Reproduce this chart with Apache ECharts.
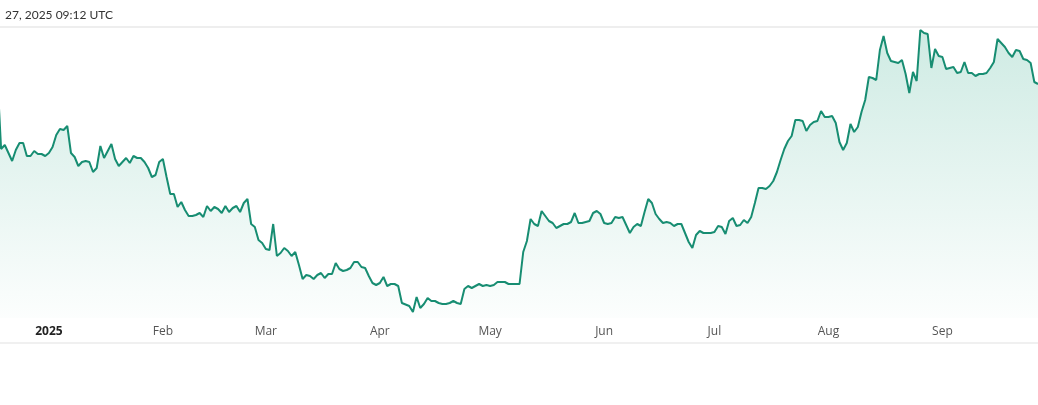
<!DOCTYPE html>
<html>
<head>
<meta charset="utf-8">
<script src="https://cdn.jsdelivr.net/npm/echarts@6/dist/echarts.min.js"></script>
<style>
  html, body { margin: 0; padding: 0; background: #ffffff; }
  #chart { width: 1038px; height: 405px; }
</style>
</head>
<body>
<div id="chart"></div>
<script>
// ---- data ----
const updatedText = '27, 2025 09:12 UTC';
const startDate = [2024, 11, 18];           // first daily point: 18 Dec 2024
const monthLabels = ['2025', 'Feb', 'Mar', 'Apr', 'May', 'Jun', 'Jul', 'Aug', 'Sep', 'Oct', 'Nov', 'Dec'];
const viewStartOffsetDays = 13.3;           // visible window starts 13.3 days before 1 Jan 2025
const values = [
  240,169,173,165,157,168,175,175,162,162,
  167,164,164,162,165,171,183,189,188,192,
  165,161,152,156,157,156,146,150,172,160,
  null,174,159,152,156,160,155,162,160,160,
  156,150,141,143,156,159,141,124,124,111,
  116,108,102,102,103,105,101,112,107,111,
  109,105,112,106,110,112,106,115,119,94,
  91,78,75,69,68,94,62,65,70,67,
  62,66,53,39,43,42,39,43,45,40,
  44,44,55,49,47,48,50,56,56,51,
  50,42,35,33,35,41,32,34,34,32,
  15,null,12,6,21,10,14,20,17,17,
  15,14,14,15,17,15,14,29,32,30,
  32,34,32,33,32,33,36,36,36,34,
  34,34,34,66,77,99,94,92,107,102,
  97,95,90,92,94,94,96,105,95,95,
  96,97,105,107,104,95,94,95,101,100,
  101,null,85,91,94,92,106,119,115,104,
  99,95,96,95,92,94,94,85,76,70,
  83,87,85,85,85,86,92,91,84,97,
  100,92,93,98,95,101,115,130,130,129,
  132,137,146,158,169,177,182,198,198,197,
  187,193,196,197,207,201,201,202,195,176,
  168,175,194,186,191,206,218,241,240,238,
  268,282,265,257,null,255,258,244,225,246,
  237,288,285,284,250,269,262,261,249,250,
  251,245,246,256,245,245,242,244,244,245,
  250,256,279,275,271,265,261,268,267,259,
  258,255,236,234
];
const yMin = 0;
const yMax = 290;

// ---- build series ----
const DAY = 86400000;
const seriesData = values.map((v, i) => {
  const d = new Date(startDate[0], startDate[1], startDate[2] + i);
  return [d.getTime(), v];
});
const jan1 = new Date(2025, 0, 1).getTime();
const xMin = jan1 - viewStartOffsetDays * DAY;
const xMax = seriesData[seriesData.length - 1][0];

const chart = echarts.init(document.getElementById('chart'), null, { renderer: 'canvas' });
chart.setOption({
  animation: false,
  backgroundColor: '#ffffff',
  title: {
    text: updatedText,
    left: 0,
    top: 4,
    textStyle: { fontFamily: 'Lato, Open Sans, sans-serif', fontSize: 12, fontWeight: 'normal', color: '#333333' }
  },
  graphic: [
    { type: 'line', shape: { x1: 0, y1: 27, x2: 1038, y2: 27 }, style: { stroke: '#eeeeee', lineWidth: 2 }, silent: true },
    { type: 'line', shape: { x1: 0, y1: 343, x2: 1038, y2: 343 }, style: { stroke: '#f0f0f0', lineWidth: 2 }, silent: true }
  ],
  grid: { left: 0, right: 0, top: 28, bottom: 87, containLabel: false },
  xAxis: {
    type: 'time',
    min: xMin,
    max: xMax,
    minInterval: 28 * DAY,
    maxInterval: 31 * DAY,
    axisLine: { show: false },
    axisTick: { show: false },
    splitLine: { show: false },
    axisLabel: {
      margin: 8,
      showMinLabel: false,
      showMaxLabel: false,
      hideOverlap: false,
      fontFamily: 'Open Sans, Noto Sans, sans-serif',
      fontSize: 12,
      color: '#555555',
      formatter: function (value) {
        const d = new Date(value);
        if (d.getDate() !== 1) return '';
        const m = d.getMonth();
        if (m === 0) return '{y|' + monthLabels[0] + '}';
        return monthLabels[m];
      },
      rich: {
        y: { fontFamily: 'Open Sans, Noto Sans, sans-serif', fontSize: 12, fontWeight: 'bold', color: '#222222' }
      }
    }
  },
  yAxis: {
    type: 'value',
    min: yMin,
    max: yMax,
    show: false,
    splitLine: { show: false }
  },
  series: [{
    type: 'line',
    data: seriesData,
    connectNulls: true,
    showSymbol: false,
    symbol: 'none',
    lineStyle: { color: '#178d72', width: 2 },
    itemStyle: { color: '#178d72' },
    areaStyle: {
      color: new echarts.graphic.LinearGradient(0, 0, 0, 1, [
        { offset: 0, color: 'rgba(26,160,125,0.30)' },
        { offset: 1, color: 'rgba(26,160,125,0.02)' }
      ])
    }
  }]
});
</script>
</body>
</html>
